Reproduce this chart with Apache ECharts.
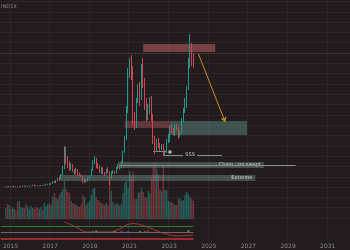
<!DOCTYPE html>
<html><head><meta charset="utf-8">
<script src="https://cdn.jsdelivr.net/npm/echarts@6/dist/echarts.min.js"></script>
<style>html,body{margin:0;padding:0;background:#231c1e}#c{width:350px;height:250px}</style>
</head><body><div id="c"></div><script>
// ---------- data ----------
const firstMonth = '2015-01';
const yearLabels = ['2015','2017','2019','2021','2023','2025','2027','2029','2031'];
// monthly candles [open, close, low, high] (arbitrary price units)
const ohlc = [
[31.0,31.3,30.6,31.8],[31.3,31.0,30.5,31.7],[31.0,31.4,30.7,31.9],[31.4,31.1,30.6,31.8],[31.1,31.3,30.8,31.7],[31.3,31.6,31.0,32.1],
[31.6,31.2,30.8,32.0],[31.2,30.9,30.4,31.6],[30.9,31.2,30.6,31.6],[31.2,31.5,30.9,31.9],[31.5,31.9,31.2,32.5],[31.9,31.7,31.3,32.3],
[31.7,31.4,31.0,32.1],[31.4,31.8,31.2,32.2],[31.8,32.0,31.5,32.4],[32.0,32.2,31.7,32.6],[32.2,32.7,32.0,33.3],[32.7,32.3,31.8,33.4],
[32.3,32.1,31.6,32.8],[32.1,32.0,31.5,32.5],[32.0,32.3,31.8,32.7],[32.3,32.6,32.0,33.0],[32.6,32.4,32.0,33.0],[32.4,32.9,32.2,33.4],
[32.9,33.2,32.5,33.8],[33.2,33.8,33.0,34.3],[33.8,33.4,32.8,34.5],[33.4,34.5,33.2,35.0],[34.5,36.0,34.2,36.8],[36.0,35.6,35.0,37.2],
[35.6,37.0,35.0,37.8],[37.0,39.5,36.8,40.2],[39.5,38.8,37.5,41.0],[38.8,43.0,38.5,44.0],[43.0,50.0,42.5,52.0],[50.0,66.0,49.0,72.0],
[66.0,58.0,54.0,71.0],[58.0,55.0,50.0,62.0],[55.0,50.0,47.0,57.0],[50.0,53.0,48.0,55.0],[53.0,48.0,46.0,54.0],[48.0,45.0,43.0,49.0],
[45.0,48.0,44.0,50.0],[48.0,44.0,42.0,49.0],[44.0,43.0,41.5,45.5],[43.0,42.0,41.0,43.5],[42.0,37.0,35.0,42.5],[37.0,38.0,35.5,39.5],
[38.0,37.0,35.5,38.5],[37.0,40.0,36.5,40.5],[40.0,42.0,39.5,42.5],[42.0,48.0,41.5,49.0],[48.0,56.0,47.5,58.0],[56.0,58.0,54.0,62.0],
[58.0,53.0,50.0,60.0],[53.0,52.0,49.0,55.0],[52.0,46.0,45.0,53.0],[46.0,50.0,44.0,51.0],[50.0,45.0,43.5,50.5],[45.0,44.0,42.5,46.0],
[44.0,48.0,43.5,49.0],[48.0,46.0,45.0,51.0],[46.0,40.0,33.0,47.0],[40.0,45.0,39.0,46.5],[45.0,46.0,44.0,48.0],[46.0,45.0,44.0,47.0],
[45.0,50.0,44.5,51.0],[50.0,52.0,49.0,54.0],[52.0,50.0,48.5,53.0],[50.0,56.0,49.5,57.0],[56.0,66.0,55.0,67.0],[66.0,80.0,65.0,82.0],
[80.0,108.0,78.0,112.0],[108.0,146.0,105.0,150.0],[146.0,154.0,140.0,160.0],[154.0,148.0,138.0,163.0],[148.0,100.0,93.0,152.0],[100.0,96.0,88.0,106.0],
[96.0,118.0,90.0,120.0],[118.0,130.0,115.0,134.0],[130.0,120.0,112.0,136.0],[120.0,150.0,118.0,154.0],[150.0,136.0,130.0,160.0],[136.0,116.0,108.0,140.0],
[116.0,103.0,96.0,120.0],[103.0,110.0,98.0,114.0],[110.0,118.0,104.0,121.0],[118.0,100.0,97.0,122.0],[100.0,80.0,74.0,104.0],[80.0,68.0,64.0,82.0],
[68.0,76.0,66.0,79.0],[76.0,72.0,70.0,80.0],[72.0,70.0,67.0,75.0],[70.0,72.0,68.0,74.0],[72.0,65.0,62.0,74.0],[65.0,66.0,63.0,68.0],
[66.0,78.0,65.0,79.0],[78.0,80.0,75.0,84.0],[80.0,90.0,76.0,92.0],[90.0,88.0,85.0,94.0],[88.0,85.0,83.0,90.0],[85.0,91.0,82.0,93.0],
[91.0,90.0,88.0,94.0],[90.0,82.0,79.0,91.0],[82.0,85.0,81.0,87.0],[85.0,98.0,84.0,100.0],[98.0,108.0,96.0,110.0],[108.0,116.0,105.0,120.0],
[116.0,130.0,110.0,132.0],[130.0,158.0,128.0,160.0],[158.0,172.0,150.0,184.0],[172.0,160.0,152.0,175.0],[160.0,156.0,150.0,165.0]
];
const volume = [
11,15,14,10,12,10,9,17,18,12,11,11,
15,13,10,13,11,10,12,11,10,12,9,16,
13,15,16,14,22,26,21,20,24,27,30,38,
30,27,26,18,16,15,14,13,12,15,24,22,
14,16,18,24,30,31,22,19,17,16,15,14,
16,14,39,28,17,14,16,15,13,15,26,36,
38,31,48,40,47,20,20,26,27,31,27,22,
21,28,26,40,52,56,50,45,30,28,54,29,
29,18,17,17,16,14,14,20,21,18,19,24,
27,25,22,20,18
];
// annotation levels (price units) and time spans
const supplyTop = ['2021-11','2025-06',174,166];
const supplyLow = ['2020-12','2023-03',97,90];
const demandZone = ['2023-03','2027-01',97,83];
const chainZone = ['2020-08','2027-11',56,50];
const extremeZone = ['2017-09','2027-06',43,37];
const chainLine = ['2020-09','2029-06',53];
const sssLine = ['2022-11','2025-10',63];
const sssLabelAt = ['2024-03',63];
const bracketLine = ['2022-05','2023-01',67];
const marker = ['2023-03',66];
const keyLevel = 165;
const projection = [['2024-08',164],['2025-12',96]];
// lower indicator pane
const oscillator = [['2017-12',20],['2018-03',18],['2018-08',14],['2019-01',10],['2019-06',10],['2020-03',10],['2020-09',13],['2021-01',17],['2021-05',18.5],['2021-10',17],['2022-03',14],['2022-09',10],['2023-01',8],['2023-06',6],['2024-05',7]];
const greenLevel = 15.3, grayLevel = 10, redLevel = 3;
const bluePts = [['2019-05',10],['2021-02',10]];
const greenPts = [['2019-07',10.5],['2020-06',10],['2021-09',10],['2024-02',11]];
const redPts = [['2020-10',10],['2021-12',10],['2022-02',10.5]];

// ---------- build ----------
const months = [];
for (let y = 2014; y <= 2032; y++) for (let m = 1; m <= 12; m++) {
  if ((y === 2014 && m < 10) || (y === 2032 && m > 2)) continue;
  months.push(y + '-' + String(m).padStart(2, '0'));
}
const start = months.indexOf(firstMonth);
const lastMonth = months[start + ohlc.length - 1];
const candleData = ohlc.map((d, i) => [months[start + i], d[0], d[1], d[2], d[3]]);
const UP = '#1f9a8a', DOWN = '#d2424e';
const volData = volume.map((v, i) => ({
  value: [months[start + i], v],
  itemStyle: { color: ohlc[i][1] >= ohlc[i][0] ? 'rgba(38,150,140,0.55)' : 'rgba(200,70,75,0.5)' }
}));
const isLabelMonth = (v) => v.endsWith('-01') && yearLabels.includes(v.slice(0, 4));
const bg = '#231c1e', gridC = '#2d2628';
const zoneArea = (z, color, label) => [{ coord: [z[0], z[2]], itemStyle: { color }, label: label ? { show: true, position: 'insideRight', formatter: label, color: '#d6d6d6', fontSize: 5, distance: 3, fontFamily: 'DejaVu Sans' } : { show: false } }, { coord: [z[1], z[3]] }];

const chart = echarts.init(document.getElementById('c'), null, { renderer: 'canvas' });
chart.setOption({
  animation: false,
  backgroundColor: bg,
  grid: [
    { left: 0, right: 0, top: 0, bottom: 8 },
    { left: 0, right: 0, top: 0, bottom: 32 },
    { left: 0, right: 0, top: 1.5, bottom: 32 },
    { left: 0, right: 0, top: 160, bottom: 31 },
    { left: 0, right: 0, top: 220, bottom: 8 }
  ],
  xAxis: [
    { gridIndex: 0, type: 'category', data: months, boundaryGap: true,
      axisLine: { show: false }, axisTick: { show: false },
      axisLabel: { interval: (i, v) => isLabelMonth(v), formatter: v => v.slice(0, 4), color: '#8f8a8b', fontSize: 6, margin: 1, fontFamily: 'DejaVu Sans' },
      splitLine: { show: true, interval: (i, v) => isLabelMonth(v), lineStyle: { color: gridC, width: 1 } } },
    { gridIndex: 1, type: 'category', data: months, show: false },
    { gridIndex: 2, type: 'value', min: 0, max: 1, show: false },
    { gridIndex: 3, type: 'category', data: months, show: false },
    { gridIndex: 4, type: 'category', data: months, show: false }
  ],
  yAxis: [
    { gridIndex: 0, type: 'value', min: 0, max: 1, show: false },
    { gridIndex: 1, type: 'value', min: 0, max: 218, show: false },
    { gridIndex: 2, type: 'value', min: 0, max: 21, interval: 1, axisLabel: { show: false }, axisLine: { show: false }, axisTick: { show: false }, splitLine: { show: true, lineStyle: { color: gridC, width: 1 } } },
    { gridIndex: 3, type: 'value', min: 0, max: 59, show: false },
    { gridIndex: 4, type: 'value', min: 0, max: 22, show: false }
  ],
  graphic: [{ type: 'text', left: 1, top: 4, style: { text: 'INDEX', fill: '#8c8687', font: '5px DejaVu Sans' } }],
  series: [
    { type: 'bar', xAxisIndex: 3, yAxisIndex: 3, data: volData, barCategoryGap: '15%', silent: true, z: 1 },
    { type: 'candlestick', xAxisIndex: 1, yAxisIndex: 1, data: candleData, encode: { x: 0, y: [1, 2, 3, 4] },
      barWidth: '75%', silent: true, z: 5,
      itemStyle: { color: UP, color0: DOWN, borderColor: UP, borderColor0: DOWN, borderWidth: 1 },
      markArea: { silent: true, z: 3, data: [
        zoneArea(supplyTop, 'rgba(175,88,94,0.6)'),
        zoneArea(supplyLow, 'rgba(175,88,94,0.45)'),
        zoneArea(demandZone, 'rgba(100,160,148,0.42)'),
        zoneArea(chainZone, 'rgba(120,165,155,0.38)', 'Chain - no swept'),
        zoneArea(extremeZone, 'rgba(120,165,155,0.38)', 'Extreme')
      ] },
      markLine: { silent: true, symbol: 'none', z: 4, label: { show: false }, data: [
        { yAxis: keyLevel, lineStyle: { color: '#3b3436', width: 1, type: 'solid' } },
        [{ coord: [chainLine[0], chainLine[2]], lineStyle: { color: '#8e8a8b', width: 1, type: 'solid' } }, { coord: [chainLine[1], chainLine[2]] }],
        [{ coord: [bracketLine[0], bracketLine[2]], lineStyle: { color: '#8e8a8b', width: 1, type: 'solid' } }, { coord: [bracketLine[1], bracketLine[2]] }],
        [{ coord: [sssLine[0], sssLine[2]], lineStyle: { color: '#8e8a8b', width: 1, type: 'solid' } }, { coord: [sssLine[1], sssLine[2]] }],
        [{ coord: projection[0], symbol: 'none', lineStyle: { color: '#c98a26', width: 1, type: 'solid' } }, { coord: projection[1], symbol: 'arrow', symbolSize: 5 }]
      ] },
      markPoint: { silent: true, z: 6, symbol: 'rect', symbolSize: [14, 5], itemStyle: { color: bg },
        label: { show: true, position: 'inside', formatter: 'SSS', color: '#d0d0d0', fontSize: 5, fontFamily: 'DejaVu Sans' },
        data: [{ coord: sssLabelAt }] }
    },
    { type: 'scatter', xAxisIndex: 1, yAxisIndex: 1, data: [marker], symbol: 'rect', symbolSize: 3, itemStyle: { color: '#e6e6e6' }, silent: true, z: 6 },
    { type: 'line', xAxisIndex: 4, yAxisIndex: 4, data: oscillator, smooth: 0.3, showSymbol: false, silent: true,
      lineStyle: { color: '#b3313a', width: 1 }, z: 3,
      markLine: { silent: true, symbol: 'none', label: { show: false }, data: [
        [{ coord: ['2014-10', greenLevel], lineStyle: { color: '#2e7a30', width: 1, type: 'solid' } }, { coord: [lastMonth, greenLevel] }],
        [{ coord: ['2014-10', grayLevel], lineStyle: { color: '#6d6869', width: 1, type: 'solid' } }, { coord: [lastMonth, grayLevel] }],
        [{ coord: ['2014-10', redLevel], lineStyle: { color: '#9e2a31', width: 2, type: 'solid' } }, { coord: [lastMonth, redLevel] }]
      ] } },
    { type: 'scatter', xAxisIndex: 4, yAxisIndex: 4, data: bluePts, symbol: 'rect', symbolSize: [2, 2], itemStyle: { color: '#3d5bd6' }, silent: true, z: 4 },
    { type: 'scatter', xAxisIndex: 4, yAxisIndex: 4, data: greenPts, symbol: 'rect', symbolSize: [2, 2], itemStyle: { color: '#3dbb3d' }, silent: true, z: 4 },
    { type: 'scatter', xAxisIndex: 4, yAxisIndex: 4, data: redPts, symbol: 'rect', symbolSize: [2, 2], itemStyle: { color: '#d23a3a' }, silent: true, z: 4 }
  ]
});
</script></body></html>
